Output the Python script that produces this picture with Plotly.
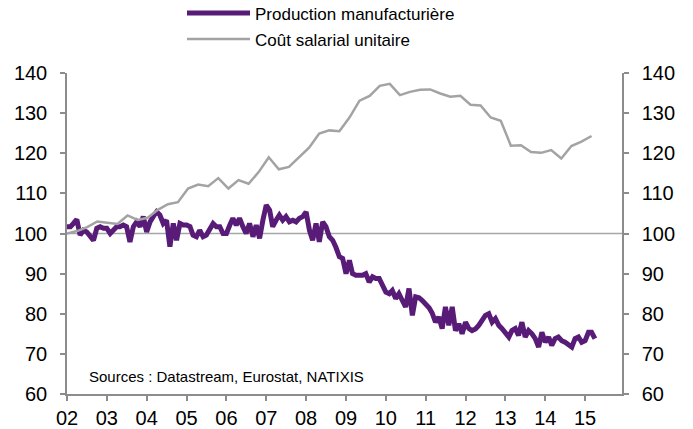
import pandas as pd
import plotly.graph_objects as go

# Production manufacturière, monthly, 2002-01 .. 2015-04 (index 2002 = 100)
prod_values = [
    101.7, 101.7, 102.5, 103.5, 99.6, 100.8, 100.4, 99.2, 98.3, 101.3, 101.7, 101.3,
    101.3, 100.0, 100.8, 101.7, 101.7, 102.1, 101.7, 97.9, 101.7, 102.9, 101.7, 104.2,
    100.4, 102.9, 104.2, 105.4, 104.6, 102.5, 103.3, 96.7, 102.5, 98.3, 102.5, 102.1,
    102.1, 101.7, 99.6, 99.2, 100.8, 99.2, 99.6, 101.3, 102.5, 101.7, 101.7, 100.0,
    100.0, 102.1, 103.8, 102.1, 103.8, 101.7, 100.0, 102.5, 99.2, 102.1, 98.8, 103.3,
    107.1, 105.8, 101.7, 103.3, 104.6, 103.3, 104.2, 102.9, 103.3, 102.9, 103.8, 104.2,
    105.4, 100.8, 98.3, 102.5, 97.9, 102.9, 101.7, 99.2, 98.3, 96.5, 94.2, 93.8,
    90.0, 93.3, 90.0, 89.6, 89.6, 89.6, 90.0, 87.9, 89.2, 88.8, 88.8, 87.1,
    85.4, 85.0, 85.8, 83.8, 85.0, 83.3, 81.7, 86.3, 79.6, 84.2, 84.0, 83.3,
    82.5, 81.5, 80.2, 77.9, 79.2, 76.3, 81.7, 77.1, 81.7, 75.8, 77.5, 75.0,
    77.9, 76.3, 75.8, 76.2, 77.1, 78.3, 79.6, 80.0, 77.9, 78.8, 77.1, 76.3,
    75.4, 74.2, 75.8, 76.3, 74.6, 77.9, 74.2, 75.8, 75.0, 73.8, 71.7, 75.4,
    72.9, 74.2, 72.1, 73.8, 74.2, 73.3, 72.9, 72.1, 71.7, 73.8, 74.2, 72.9,
    73.3, 75.4, 75.4, 73.8,
]

# Coût salarial unitaire, quarterly points
cost_values = [
    100.0, 100.6, 101.6, 103.0, 102.7, 102.4, 104.5, 103.4, 103.9, 105.9,
    107.3, 107.8, 111.2, 112.2, 111.8, 113.8, 111.2, 113.3, 112.4, 115.3,
    119.0, 116.0, 116.6, 119.0, 121.4, 124.9, 125.7, 125.5, 128.9, 133.1,
    134.3, 136.8, 137.3, 134.5, 135.3, 135.8, 135.9, 134.9, 134.1, 134.3,
    132.1, 131.9, 128.9, 128.1, 121.9, 122.0, 120.3, 120.1, 120.8, 118.7,
    121.8, 122.9, 124.3,
]

prod_dates = pd.date_range("2002-01-01", periods=len(prod_values), freq="MS")
cost_dates = pd.date_range("2002-01-01", "2015-03-01", periods=len(cost_values))

y_ticks = [60, 70, 80, 90, 100, 110, 120, 130, 140]

font = "Liberation Sans, Arial, sans-serif"
axis_grey = "#8c8c8c"
purple = "#581c78"

W, H = 693, 429

fig = go.Figure()
fig.add_trace(go.Scatter(x=cost_dates, y=cost_values, name="Coût salarial unitaire",
                         mode="lines", line=dict(color="#a3a3a3", width=2.5),
                         legend="legend2", yaxis="y2"))
fig.add_trace(go.Scatter(x=prod_dates, y=prod_values, name="Production manufacturière",
                         mode="lines", line=dict(color=purple, width=5),
                         legend="legend"))

# reference line at 100
fig.add_shape(type="line", xref="paper", x0=0, x1=1, yref="y", y0=100, y1=100,
              line=dict(color="#a6a6a6", width=1.5), layer="below")

fig.add_annotation(text="Sources : Datastream, Eurostat, NATIXIS", xref="paper", yref="y",
                   x=0.036, y=64.3, xanchor="left", yanchor="middle", showarrow=False,
                   font=dict(size=15, color="#000000"))

yaxis_common = dict(range=[60, 140], tickvals=y_ticks, showgrid=False, zeroline=False,
                    showline=True, linecolor=axis_grey, linewidth=1.5,
                    ticks="outside", ticklen=5, tickcolor=axis_grey, tickwidth=1.5,
                    tickfont=dict(size=20, color="#000000"), ticklabelstandoff=9,
                    automargin=False)

legend_common = dict(xref="container", yref="container", x=182 / W,
                     xanchor="left", yanchor="middle", itemwidth=63,
                     font=dict(size=17), bgcolor="rgba(0,0,0,0)")

fig.update_layout(
    width=W, height=H,
    margin=dict(l=67, r=71, t=73, b=35, autoexpand=False),
    paper_bgcolor="white", plot_bgcolor="white",
    font=dict(family=font, color="#000000"),
    xaxis=dict(type="date", range=["2002-01-01", "2015-12-05"], tick0="2002-01-01",
               dtick="M12", tickformat="%y", showgrid=False, zeroline=False,
               showline=True, linecolor=axis_grey, linewidth=1.5,
               ticks="outside", ticklen=5, tickcolor=axis_grey, tickwidth=1.5,
               tickfont=dict(size=20, color="#000000"), automargin=False),
    yaxis=yaxis_common,
    yaxis2=dict(yaxis_common, overlaying="y", side="right"),
    legend=dict(legend_common, y=1 - 13.5 / H),
    legend2=dict(legend_common, y=1 - 39.5 / H),
    showlegend=True,
)

# drop the default 8px page margin so the figure fills the window exactly
fig.write_html("out.html", config={"displayModeBar": False},
               post_script="document.body.style.margin = '0';")
